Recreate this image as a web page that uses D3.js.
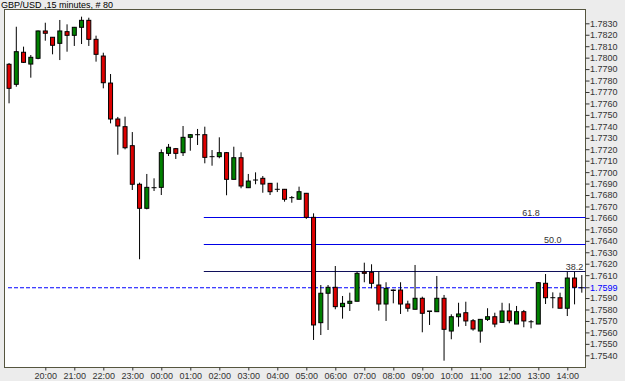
<!DOCTYPE html>
<html>
<head>
<meta charset="utf-8">
<script src="https://cdn.jsdelivr.net/npm/d3@7"></script>
<style>
  html, body { margin: 0; padding: 0; background: #ececec; }
  svg { display: block; font-family: "Liberation Sans", Arial, sans-serif; }
</style>
</head>
<body>
<svg id="chart" width="625" height="381"></svg>
<script>
const title = "GBP/USD ,15 minutes, # 80";
const firstBar = "2000-01-01 18:45";
const barMinutes = 15;

// OHLC
const open = [
  1.77942, 1.77767, 1.78047, 1.77944, 1.77994, 1.78233, 1.78178, 1.78125, 1.78227, 1.78195,
  1.78265, 1.78326, 1.78160, 1.78014, 1.77778, 1.77464, 1.77397, 1.77231, 1.76894, 1.76684,
  1.76864, 1.76867, 1.77164, 1.77205, 1.77170, 1.77304, 1.77327, 1.77327, 1.77135, 1.77135,
  1.77170, 1.76937, 1.77126, 1.76864, 1.76931, 1.76946, 1.76902, 1.76850, 1.76850, 1.76777,
  1.76763, 1.76815, 1.76605, 1.75685, 1.75942, 1.75994, 1.75825, 1.75854, 1.75872, 1.76128,
  1.76125, 1.76014, 1.75848, 1.75966, 1.75970, 1.75848, 1.75802, 1.75898, 1.75783, 1.75781,
  1.75898, 1.75612, 1.75737, 1.75772, 1.75702, 1.75612, 1.75714, 1.75737, 1.75688, 1.75787,
  1.75673, 1.75781, 1.75693, 1.75673, 1.76029, 1.75903, 1.75903, 1.75811, 1.76075, 1.75990
];
const high = [
  1.77953, 1.78270, 1.78096, 1.78023, 1.78237, 1.78305, 1.78180, 1.78329, 1.78291, 1.78268,
  1.78358, 1.78349, 1.78192, 1.78043, 1.77857, 1.77482, 1.77484, 1.77350, 1.76908, 1.76984,
  1.76946, 1.77199, 1.77246, 1.77211, 1.77403, 1.77333, 1.77377, 1.77397, 1.77193, 1.77304,
  1.77176, 1.77222, 1.77173, 1.76984, 1.76998, 1.76966, 1.76905, 1.76908, 1.76853, 1.76791,
  1.76873, 1.76818, 1.76640, 1.76014, 1.76014, 1.76180, 1.75918, 1.75947, 1.76130, 1.76209,
  1.76195, 1.76130, 1.76038, 1.75975, 1.76038, 1.75877, 1.76189, 1.75912, 1.75787, 1.76093,
  1.75927, 1.75758, 1.75859, 1.75868, 1.75717, 1.75717, 1.75811, 1.75772, 1.75859, 1.75854,
  1.75831, 1.75796, 1.75708, 1.76040, 1.76110, 1.75950, 1.75947, 1.76130, 1.76130, 1.76101
];
const low = [
  1.77601, 1.77746, 1.77953, 1.77825, 1.77986, 1.78148, 1.78029, 1.77979, 1.78052, 1.78102,
  1.78119, 1.78102, 1.77965, 1.77732, 1.77426, 1.77152, 1.77199, 1.76844, 1.76239, 1.76675,
  1.76835, 1.76800, 1.77141, 1.77115, 1.77141, 1.77187, 1.77237, 1.77077, 1.77056, 1.77121,
  1.76798, 1.76937, 1.76859, 1.76861, 1.76894, 1.76820, 1.76800, 1.76826, 1.76742, 1.76733,
  1.76763, 1.76591, 1.75534, 1.75577, 1.75621, 1.75802, 1.75720, 1.75787, 1.75872, 1.76038,
  1.75985, 1.75790, 1.75700, 1.75854, 1.75761, 1.75781, 1.75802, 1.75601, 1.75665, 1.75781,
  1.75353, 1.75540, 1.75650, 1.75656, 1.75615, 1.75510, 1.75700, 1.75645, 1.75688, 1.75680,
  1.75673, 1.75645, 1.75636, 1.75673, 1.75848, 1.75811, 1.75811, 1.75743, 1.75845, 1.75947
];
const close = [
  1.77732, 1.78052, 1.77959, 1.78003, 1.78233, 1.78213, 1.78108, 1.78233, 1.78195, 1.78265,
  1.78326, 1.78160, 1.78029, 1.77781, 1.77464, 1.77403, 1.77213, 1.76894, 1.76684, 1.76867,
  1.76864, 1.77170, 1.77217, 1.77164, 1.77304, 1.77327, 1.77327, 1.77129, 1.77135, 1.77170,
  1.76937, 1.77126, 1.76879, 1.76922, 1.76931, 1.76896, 1.76829, 1.76850, 1.76763, 1.76777,
  1.76829, 1.76605, 1.75665, 1.75942, 1.75994, 1.75825, 1.75854, 1.75872, 1.76116, 1.76116,
  1.76029, 1.75848, 1.75985, 1.75970, 1.75848, 1.75811, 1.75898, 1.75767, 1.75787, 1.75898,
  1.75627, 1.75737, 1.75761, 1.75700, 1.75630, 1.75714, 1.75737, 1.75673, 1.75787, 1.75702,
  1.75781, 1.75700, 1.75693, 1.76034, 1.75903, 1.75903, 1.75811, 1.76075, 1.75994, 1.75990
];

const priceTicks = [
  1.7830, 1.7820, 1.7810, 1.7800, 1.7790, 1.7780, 1.7770, 1.7760, 1.7750, 1.7740,
  1.7730, 1.7720, 1.7710, 1.7700, 1.7690, 1.7680, 1.7670, 1.7660, 1.7650, 1.7640,
  1.7630, 1.7620, 1.7610, 1.7590, 1.7580, 1.7570, 1.7560, 1.7550, 1.7540
];
const hourTicks = [
  "20:00", "21:00", "22:00", "23:00", "00:00", "01:00", "02:00", "03:00", "04:00", "05:00",
  "06:00", "07:00", "08:00", "09:00", "10:00", "11:00", "12:00", "13:00", "14:00"
];
const lastPrice = 1.7599;

// fibonacci retracement
const fibLevels = [1.7661, 1.7637, 1.7614];
const fibNames = ["61.8", "50.0", "38.2"];
const fibFrom = "01:30";

const svg = d3.select("#chart");
const W = 625, H = 381;
const plot = { left: 4.5, top: 9.5, right: 585.5, bottom: 367.5 };

const parseTime = d3.timeParse("%Y-%m-%d %H:%M");
const fmt = d3.timeFormat("%H:%M");
const start = parseTime(firstBar);
const bars = open.map((o, i) => ({
  time: d3.timeMinute.offset(start, i * barMinutes),
  open: o,
  high: high[i],
  low: low[i],
  close: close[i],
}));
const timeOf = (label) => bars.find((b) => fmt(b.time) === label).time;

const x = d3
  .scaleTime()
  .domain(d3.extent(bars, (d) => d.time))
  .range([9.05, 581.8]);
const y = d3.scaleLinear().domain([1.754, 1.783]).range([355.3, 23.3]);

// background + plot frame
svg.append("rect").attr("width", W).attr("height", H).attr("fill", "#ececec");
svg
  .append("rect")
  .attr("x", plot.left)
  .attr("y", plot.top)
  .attr("width", plot.right - plot.left)
  .attr("height", plot.bottom - plot.top)
  .attr("fill", "#ffffff")
  .attr("stroke", "#55553f")
  .attr("stroke-width", 1);

svg
  .append("text")
  .attr("x", 1)
  .attr("y", 8)
  .attr("font-size", 9)
  .attr("fill", "#000")
  .text(title);

// axes
const yAxis = svg
  .append("g")
  .attr("transform", `translate(${plot.right},0)`)
  .call(
    d3
      .axisRight(y)
      .tickValues(priceTicks)
      .tickSize(4)
      .tickPadding(0.5)
      .tickFormat(d3.format(".4f"))
  );
yAxis.select(".domain").remove();
yAxis
  .attr("font-size", 9)
  .attr("font-family", '"Liberation Sans", Arial, sans-serif')
  .attr("color", "#333");

const lastTick = yAxis
  .append("g")
  .attr("transform", `translate(0,${y(lastPrice)})`);
lastTick.append("line").attr("x2", 4).attr("stroke", "#333");
lastTick
  .append("text")
  .attr("x", 4.5)
  .attr("dy", "0.32em")
  .attr("fill", "#0000ff")
  .text(d3.format(".4f")(lastPrice));

const xAxis = svg
  .append("g")
  .attr("transform", `translate(0,${plot.bottom})`)
  .call(
    d3
      .axisBottom(x)
      .tickValues(hourTicks.map(timeOf))
      .tickSize(3)
      .tickPadding(2)
      .tickFormat(fmt)
  );
xAxis.select(".domain").remove();
xAxis
  .attr("font-size", 9)
  .attr("font-family", '"Liberation Sans", Arial, sans-serif')
  .attr("color", "#333");

// current price line
svg
  .append("line")
  .attr("x1", 8)
  .attr("x2", plot.right)
  .attr("y1", y(lastPrice))
  .attr("y2", y(lastPrice))
  .attr("stroke", "#0000ff")
  .attr("stroke-dasharray", "4,2");

// fib lines
const fibColors = ["#0000e6", "#0000e6", "#10105a"];
const fibLabelAt = ["13:00", "13:45", "14:30"];
const fib = svg
  .append("g")
  .selectAll("g")
  .data(fibLevels)
  .join("g")
  .attr("transform", (d) => `translate(0,${Math.round(y(d)) + 0.5})`);
fib
  .append("line")
  .attr("x1", x(timeOf(fibFrom)) - 1)
  .attr("x2", plot.right)
  .attr("stroke", (d, i) => fibColors[i]);
fib
  .append("text")
  .attr("x", (d, i) => x(timeOf(fibLabelAt[i])) + 1.5)
  .attr("y", -2)
  .attr("text-anchor", "end")
  .attr("font-size", 9)
  .attr("fill", "#333")
  .text((d, i) => fibNames[i]);

// candles
const candle = svg.append("g").selectAll("g").data(bars).join("g");
candle
  .append("line")
  .attr("x1", (d) => x(d.time))
  .attr("x2", (d) => x(d.time))
  .attr("y1", (d) => y(d.high))
  .attr("y2", (d) => y(d.low))
  .attr("stroke", "#000");
candle
  .filter((d) => d.open !== d.close)
  .append("rect")
  .attr("x", (d) => x(d.time) - 2)
  .attr("width", 4)
  .attr("y", (d) => y(Math.max(d.open, d.close)))
  .attr("height", (d) => Math.abs(y(d.open) - y(d.close)))
  .attr("fill", (d) => (d.close > d.open ? "#008000" : "#dd0000"))
  .attr("stroke", "#000");
candle
  .filter((d) => d.open === d.close)
  .append("line")
  .attr("x1", (d) => x(d.time) - 2.5)
  .attr("x2", (d) => x(d.time) + 2.5)
  .attr("y1", (d) => y(d.close))
  .attr("y2", (d) => y(d.close))
  .attr("stroke", "#000");
</script>
</body>
</html>
